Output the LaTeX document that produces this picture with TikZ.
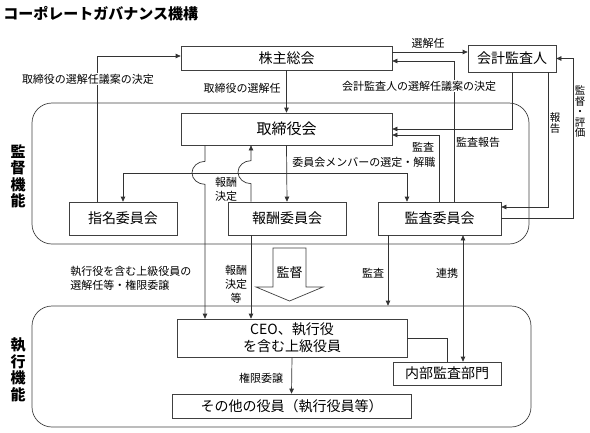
\documentclass[tikz,border=0pt]{standalone}
\usepackage{fontspec}
\setmainfont{Noto Sans CJK JP}
\usetikzlibrary{arrows.meta,calc}
\begin{document}
\begin{tikzpicture}[x=1pt,y=-1pt,line width=0.7pt,
  box/.style={draw=black!75, fill=white, inner sep=0pt, font=\fontsize{14}{17}\selectfont, align=center},
  region/.style={draw=black!75, rounded corners=20pt, inner sep=0pt},
  lab/.style={font=\fontsize{11}{14}\selectfont, inner sep=1pt, align=center},
  wlab/.style={lab, fill=white},
  vlab/.style={font=\fontsize{15}{16.5}\selectfont\bfseries, inner sep=0pt, align=center},
  tip/.style={Triangle[length=5pt,width=4.5pt]},
  arr/.style={draw=black!80, -{Triangle[length=5pt,width=4.5pt]}},
  dblarr/.style={draw=black!80, {Triangle[length=5pt,width=4.5pt]}-{Triangle[length=5pt,width=4.5pt]}},
  conn/.style={draw=black!80},
]
\useasboundingbox (0,0) rectangle (590,432);

% title
\node[anchor=west, inner sep=0pt, font=\fontsize{15}{17}\selectfont\bfseries] (title) at (3,14) {コーポレートガバナンス機構};

% regions
\node[region, minimum width=497pt, minimum height=141pt] (sup) at (280.5,173.5) {};
\node[region, minimum width=499pt, minimum height=121pt] (exe) at (281.5,366.5) {};
\node[vlab] (suplab) at (18,176.5) {監\\督\\機\\能};
\node[vlab] (exelab) at (18,370) {執\\行\\機\\能};

% boxes
\node[box, minimum width=211pt, minimum height=24pt] (kabu) at (286.5,58) {株主総会};
\node[box, minimum width=88pt, minimum height=27pt] (kaikei) at (512,58.5) {会計監査人};
\node[box, minimum width=211pt, minimum height=32pt, font=\fontsize{15}{17}\selectfont] (tori) at (286.5,129) {取締役会};
\node[box, minimum width=108pt, minimum height=33pt] (shimei) at (123,218.5) {指名委員会};
\node[box, minimum width=118pt, minimum height=33pt] (hoshu) at (287,218.5) {報酬委員会};
\node[box, minimum width=123pt, minimum height=33pt] (kansa) at (439.5,218.5) {監査委員会};
\node[box, minimum width=230pt, minimum height=38pt] (ceo) at (292,338) {CEO、執行役\\を含む上級役員};
\node[box, minimum width=108pt, minimum height=23pt] (naibu) at (447,373.5) {内部監査部門};
\node[box, minimum width=239pt, minimum height=24pt] (sonota) at (291.5,406) {その他の役員（執行役員等）};

% connectors top
\draw[arr] ([yshift=6pt]kabu.east) -- ([yshift=6pt]kabu.east -| kaikei.west);
\node[lab] (l1) at (428,43) {選解任};

\draw[arr] ([xshift=14.5pt]kansa.north) |- ([yshift=-3pt]kabu.east);
\node[wlab] (l2) at (419,86) {会計監査人の選解任議案の決定};

\draw[arr] (kabu.south) -- (tori.north);
\node[lab] (l3) at (242,88) {取締役の選解任};

\draw[arr] ([xshift=-26pt]shimei.north) |- ([yshift=2pt]kabu.west);
\node[wlab] (l4) at (88,79) {取締役の選解任議案の決定};

\draw[arr] (kaikei.south) |- (tori.east);
\node[lab] (l5) at (478,142) {監査報告};

\draw[arr] ([xshift=36pt]kaikei.south) |- ([yshift=11.5pt]kansa.east);
\node[lab, font=\fontsize{10.5}{11}\selectfont] (l6) at (555,123) {報\\告};

\draw[arr] (kansa.east) -- ++(72,0) |- (kaikei.east);
\node[lab, font=\fontsize{10.5}{10.5}\selectfont] (l7) at (580,112) {監\\督\\・\\評\\価};

\draw[arr] (kansa.north) |- ([yshift=-6pt]tori.east);
\node[lab] (l8) at (423,147) {監査};

% committee member selection
\draw[arr] (tori.south) -- (hoshu.north);
\coordinate (br) at (287,173);
\draw[arr] (br) -| (shimei.north);
\draw[arr] (br) -| ([xshift=-32.5pt]kansa.north);
\node[lab, anchor=west] (l9) at (291,162) {委員会メンバーの選定・解職};

% hop lines
\draw[arr] ([xshift=-81.5pt]tori.south) -- ++(0,16) arc[start angle=90,end angle=270,x radius=13pt,y radius=11.5pt] -- ([xshift=-87pt]ceo.north);
\draw[arr] ([xshift=-36pt]hoshu.north) -- ++(0,-18) arc[start angle=270,end angle=90,x radius=13pt,y radius=11.5pt] -- ([xshift=-35.5pt]tori.south);
\node[lab] (l10) at (226,189.5) {報酬\\決定};
\draw[arr] ([xshift=-36pt]hoshu.south) -- ([xshift=-41pt]ceo.north);
\node[lab] (l11) at (236,284) {報酬\\決定\\等};
\node[lab, anchor=west, align=left] (l12) at (69,278) {執行役を含む上級役員の\\選解任等・権限委譲};

% supervision block arrow
\draw[draw=black!75, fill=white] (273,248) -- (306,248) -- (306,287) -- (323,287) -- (289.5,301) -- (256,287) -- (273,287) -- cycle;
\node[inner sep=0pt, font=\fontsize{13}{15}\selectfont] (kantoku) at (289.5,273) {監督};

% audit arrows
\draw[arr] ([xshift=-51.5pt]kansa.south) -- ([xshift=-51.5pt]kansa.south |- exe.north);
\node[lab] (l13) at (373,273) {監査};
\draw[dblarr] ([xshift=23.5pt]kansa.south) -- ([xshift=16pt]naibu.north);
\node[lab] (l14) at (447,273) {連携};

\draw[conn] (ceo.east) -| (naibu.north);

\draw[arr] (ceo.south) -- (sonota.north);
\node[lab] (l15) at (261,378) {権限委譲};
\end{tikzpicture}
\end{document}
